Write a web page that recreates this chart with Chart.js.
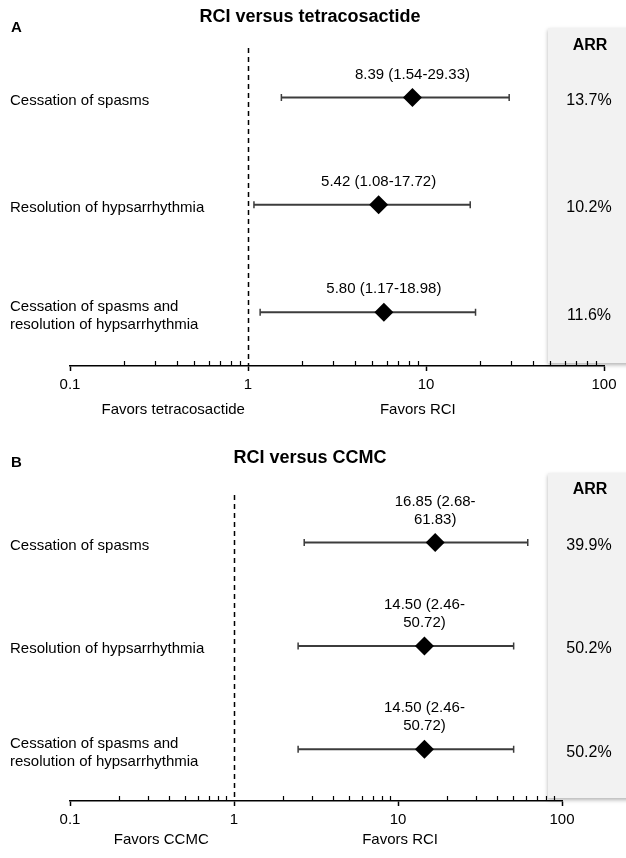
<!DOCTYPE html>
<html lang="en">
<head>
<meta charset="UTF-8">
<title>RCI forest plots</title>
<script src="https://cdn.jsdelivr.net/npm/chart.js@4.4.0/dist/chart.umd.min.js"></script>
<style>
    body { margin: 0; background: #fff; }
    .panel { position: absolute; left: 0; width: 626px; }
    #panelA { top: 0; height: 430px; }
    #panelB { top: 430px; height: 428px; }
</style>
</head>
<body>
<div class="panel" id="panelA"><canvas id="chartA"></canvas></div>
<div class="panel" id="panelB"><canvas id="chartB"></canvas></div>

<script>
// --- Data ---
const outcomes = [
    'Cessation of spasms',
    'Resolution of hypsarrhythmia',
    ['Cessation of spasms and', 'resolution of hypsarrhythmia']
];

// Panel A: RCI versus tetracosactide (odds ratio, 95% CI, ARR)
const oddsA = [8.39, 5.42, 5.80];
const lowerA = [1.54, 1.08, 1.17];
const upperA = [29.33, 17.72, 18.98];
const arrA = ['13.7%', '10.2%', '11.6%'];

// Panel B: RCI versus CCMC
const oddsB = [16.85, 14.50, 14.50];
const lowerB = [2.68, 2.46, 2.46];
const upperB = [61.83, 50.72, 50.72];
const arrB = ['39.9%', '50.2%', '50.2%'];

// log axis
const axisTicks = [0.1, 0.2, 0.3, 0.4, 0.5, 0.6, 0.7, 0.8, 0.9,
                   1, 2, 3, 4, 5, 6, 7, 8, 9,
                   10, 20, 30, 40, 50, 60, 70, 80, 90, 100];
const majorTicks = [0.1, 1, 10, 100];
const majorLabels = ['0.1', '1', '10', '100'];

const FONT = "'Liberation Sans', Arial, sans-serif";

function majorIndex(v) {
    return majorTicks.findIndex(m => Math.abs(Math.log10(v) - Math.log10(m)) < 1e-6);
}

// draws everything around the diamonds: grey ARR box, reference line, CIs, texts
const forestPlugin = {
    id: 'forest',
    beforeDraw(chart, args, o) {
        const ctx = chart.ctx;
        ctx.save();
        ctx.shadowColor = 'rgba(0,0,0,0.3)';
        ctx.shadowBlur = 4;
        ctx.shadowOffsetY = 2;
        ctx.fillStyle = '#f2f2f2';
        ctx.fillRect(548, o.greyTop, chart.width - 548 + 10, o.greyBottom - o.greyTop);
        ctx.restore();
    },
    beforeDatasetsDraw(chart, args, o) {
        const ctx = chart.ctx;
        const x = chart.scales.x, y = chart.scales.y, area = chart.chartArea;
        ctx.save();

        // minor ticks point up from the axis
        ctx.strokeStyle = '#000';
        ctx.lineWidth = 1.2;
        axisTicks.forEach(v => {
            if (majorIndex(v) >= 0) return;
            const px = Math.round(x.getPixelForValue(v)) + 0.5;
            ctx.beginPath();
            ctx.moveTo(px, area.bottom);
            ctx.lineTo(px, area.bottom - 5);
            ctx.stroke();
        });

        // line of no effect
        const x1 = Math.round(x.getPixelForValue(1)) + 0.5;
        ctx.setLineDash([5, 4]);
        ctx.lineWidth = 1.5;
        ctx.beginPath();
        ctx.moveTo(x1, area.top);
        ctx.lineTo(x1, area.bottom);
        ctx.stroke();
        ctx.setLineDash([]);

        // confidence intervals
        ctx.strokeStyle = '#3c3c3c';
        o.lower.forEach((lo, i) => {
            const py = y.getPixelForValue(i);
            const a = x.getPixelForValue(lo), b = x.getPixelForValue(o.upper[i]);
            ctx.lineWidth = 2;
            ctx.beginPath();
            ctx.moveTo(a, py);
            ctx.lineTo(b, py);
            ctx.stroke();
            ctx.lineWidth = 1.5;
            ctx.beginPath();
            ctx.moveTo(a, py - 3.5); ctx.lineTo(a, py + 3.5);
            ctx.moveTo(b, py - 3.5); ctx.lineTo(b, py + 3.5);
            ctx.stroke();
        });
        ctx.restore();
    },
    afterDatasetsDraw(chart, args, o) {
        const ctx = chart.ctx;
        const x = chart.scales.x, y = chart.scales.y;
        const data = chart.data.datasets[0].data;
        ctx.save();
        ctx.fillStyle = '#000';
        ctx.textBaseline = 'middle';

        // title and panel letter
        ctx.font = 'bold 18px ' + FONT;
        ctx.textAlign = 'center';
        ctx.fillText(o.title, 310, o.titleY);
        ctx.font = 'bold 15px ' + FONT;
        ctx.textAlign = 'left';
        ctx.fillText(o.letter, 11, o.letterY);

        // outcome labels
        ctx.font = '15px ' + FONT;
        outcomes.forEach((lab, i) => {
            const py = y.getPixelForValue(i);
            if (Array.isArray(lab)) {
                ctx.fillText(lab[0], 10, py - 5);
                ctx.fillText(lab[1], 10, py + 13);
            } else {
                ctx.fillText(lab, 10, py + 3);
            }
        });

        // OR (95% CI) above each line
        ctx.textAlign = 'center';
        data.forEach((d, i) => {
            const px = x.getPixelForValue(d.x), py = y.getPixelForValue(i);
            const est = d.x.toFixed(2), lo = o.lower[i].toFixed(2), hi = o.upper[i].toFixed(2);
            if (o.wrapCI) {
                ctx.fillText(`${est} (${lo}-`, px, py - 41);
                ctx.fillText(`${hi})`, px, py - 23);
            } else {
                ctx.fillText(`${est} (${lo}-${hi})`, px, py - 23);
            }
        });

        // ARR column
        ctx.font = 'bold 16px ' + FONT;
        ctx.fillText('ARR', 590, o.headerY);
        ctx.font = '16px ' + FONT;
        o.arr.forEach((v, i) => ctx.fillText(v, 589, y.getPixelForValue(i) + 3));

        // favors labels under the axis
        ctx.font = '15px ' + FONT;
        ctx.fillText('Favors ' + o.comparator, x.getPixelForValue(o.favorsAt[0]), o.favorsY);
        ctx.fillText('Favors RCI', x.getPixelForValue(o.favorsAt[1]), o.favorsY);
        ctx.restore();
    }
};

function makeChart(id, odds, lower, upper, arr, panel) {
    return new Chart(document.getElementById(id), {
        type: 'scatter',
        data: {
            datasets: [{
                data: odds.map((v, i) => ({ x: v, y: i })),
                pointStyle: 'rectRot',
                pointRadius: 9.5,
                pointHoverRadius: 9.5,
                backgroundColor: '#000',
                borderColor: '#000',
                borderWidth: 0
            }]
        },
        options: {
            responsive: true,
            maintainAspectRatio: false,
            animation: false,
            events: [],
            layout: { padding: { left: 70, right: panel.padRight, top: panel.padTop, bottom: panel.padBottom } },
            plugins: {
                legend: { display: false },
                tooltip: { enabled: false },
                forest: Object.assign({ lower, upper, arr }, panel)
            },
            scales: {
                x: {
                    type: 'logarithmic',
                    min: 0.1,
                    max: 100,
                    afterBuildTicks: s => { s.ticks = axisTicks.map(v => ({ value: v })); },
                    ticks: {
                        autoSkip: false,
                        maxRotation: 0,
                        padding: 5,
                        color: '#000',
                        font: { family: FONT, size: 15 },
                        callback: v => {
                            const k = majorIndex(v);
                            return k >= 0 ? majorLabels[k] : '';
                        }
                    },
                    grid: {
                        drawOnChartArea: false,
                        drawTicks: true,
                        tickLength: 5,
                        tickWidth: 1.5,
                        tickColor: c => majorIndex(c.tick.value) >= 0 ? '#000' : 'rgba(0,0,0,0)'
                    },
                    border: { display: true, color: '#000', width: 1.5 }
                },
                y: { type: 'linear', display: false, min: -0.46, max: 2.5, reverse: true }
            }
        },
        plugins: [forestPlugin]
    });
}

makeChart('chartA', oddsA, lowerA, upperA, arrA, {
    title: 'RCI versus tetracosactide', letter: 'A', comparator: 'tetracosactide',
    titleY: 17, letterY: 28, headerY: 46, greyTop: 28, greyBottom: 363,
    favorsAt: [0.38, 9], favorsY: 410, wrapCI: false,
    padTop: 48, padBottom: 31, padRight: 22
});

makeChart('chartB', oddsB, lowerB, upperB, arrB, {
    title: 'RCI versus CCMC', letter: 'B', comparator: 'CCMC',
    titleY: 28, letterY: 33, headerY: 60, greyTop: 43, greyBottom: 368,
    favorsAt: [0.36, 10.3], favorsY: 410, wrapCI: true,
    padTop: 65, padBottom: 24, padRight: 64
});
</script>
</body>
</html>
